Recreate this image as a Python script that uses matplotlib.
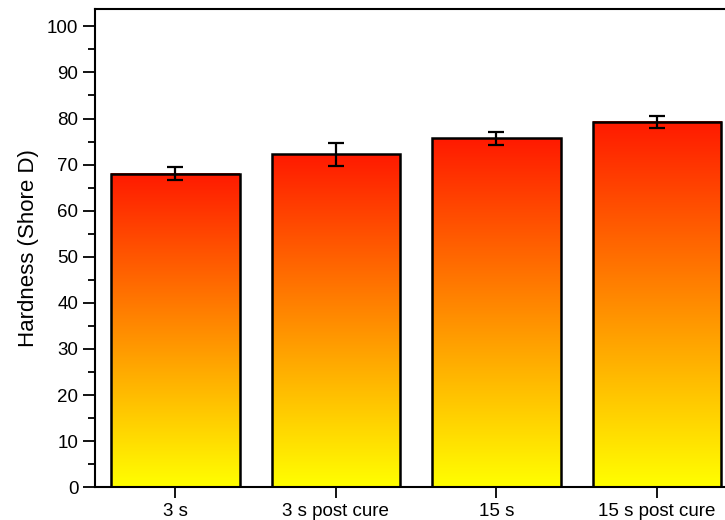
import matplotlib
matplotlib.use('Agg')
import matplotlib.pyplot as plt
import numpy as np
from matplotlib.colors import LinearSegmentedColormap
from matplotlib.ticker import MultipleLocator

# Data
samples = ['3 s', '3 s post cure', '15 s', '15 s post cure']
hardness = [68.0, 72.2, 75.7, 79.3]
hardness_err = [1.4, 2.4, 1.35, 1.25]

plt.rcParams['font.family'] = ['Liberation Sans', 'DejaVu Sans']

fig = plt.figure(figsize=(7.25, 5.2), dpi=100)
# axes runs slightly past the right edge, like the cropped original
ax = fig.add_axes([0.131, 0.063, 0.886, 0.92])

x = np.arange(1, len(samples) + 1)
width = 0.8
cmap = LinearSegmentedColormap.from_list('yr', ['#ffff00', '#ff8c00', '#ff1a00'])
grad = np.linspace(0, 1, 256).reshape(-1, 1)

for xi, h in zip(x, hardness):
    ax.imshow(grad, cmap=cmap, origin='lower', aspect='auto',
              extent=(xi - width / 2, xi + width / 2, 0, h), zorder=1)
ax.bar(x, hardness, width=width, facecolor='none', edgecolor='black', linewidth=1.8, zorder=2)
ax.errorbar(x, hardness, yerr=hardness_err, fmt='none', ecolor='black',
            elinewidth=1.6, capsize=6, capthick=1.6, zorder=3)

ax.set_xlim(0.5, 4.5)
ax.set_ylim(0, 103.8)
ax.set_xticks(x)
ax.set_xticklabels(samples, fontsize=13.5)
ax.yaxis.set_major_locator(MultipleLocator(10))
ax.yaxis.set_minor_locator(MultipleLocator(5))
ax.tick_params(axis='y', which='major', direction='out', length=9, width=1.3, labelsize=13.5, pad=3)
ax.tick_params(axis='y', which='minor', direction='out', length=5, width=1.3)
ax.tick_params(axis='x', which='major', direction='out', length=8, width=1.3, pad=3)
for s in ax.spines.values():
    s.set_linewidth(1.5)
ax.set_ylabel('Hardness (Shore D)', fontsize=16, labelpad=6)

plt.savefig('out.png', dpi=100)
